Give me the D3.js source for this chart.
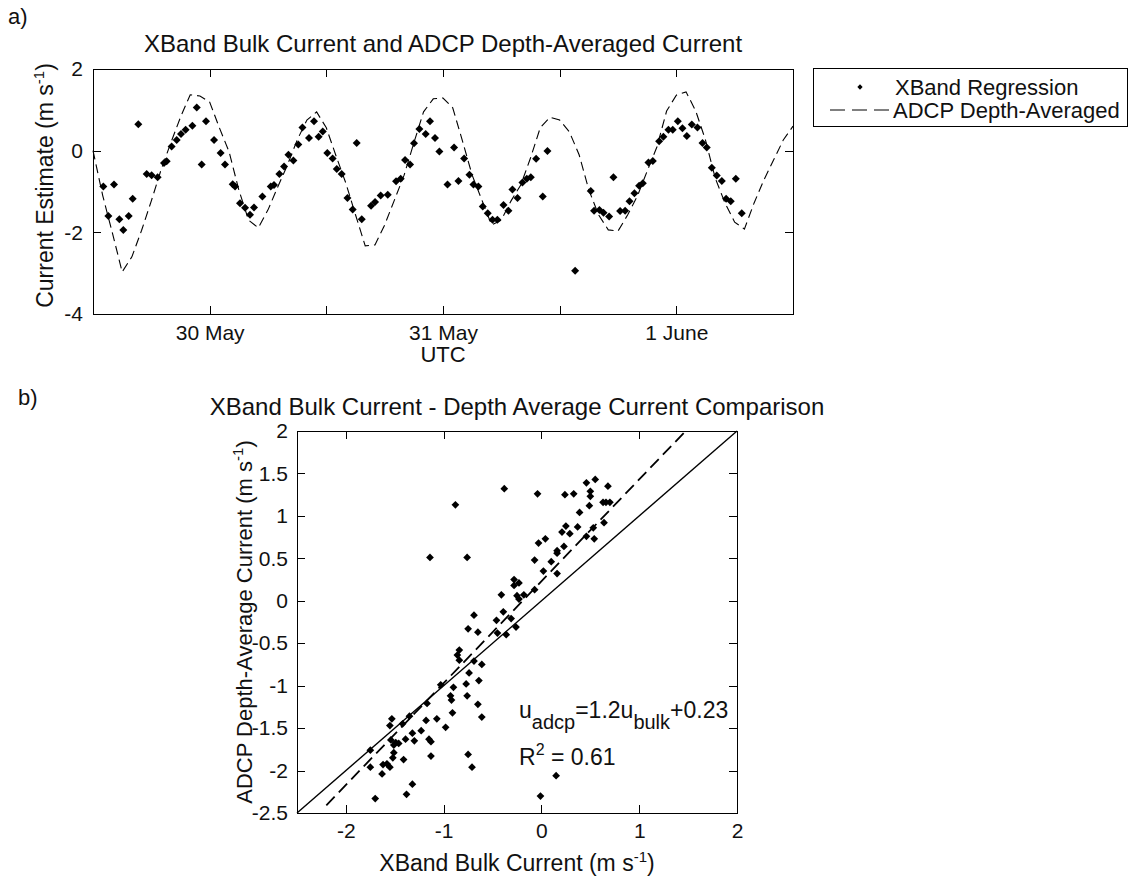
<!DOCTYPE html>
<html>
<head>
<meta charset="utf-8">
<script src="https://cdnjs.cloudflare.com/ajax/libs/d3/7.8.5/d3.min.js"></script>
<style>
  body { margin: 0; background: #fff; }
  svg { font-family: "Liberation Sans", Arial, Helvetica, sans-serif; fill: #111; }
  .axis path { display: none; }
  .axis line { stroke: #000; shape-rendering: crispEdges; }
  .axis text { font-size: 21px; fill: #111; font-family: "Liberation Sans", Arial, sans-serif; }
</style>
</head>
<body>
<svg id="fig" width="1133" height="879"></svg>
<script>
// ---- panel a: time series (hours after 29 May 12:00 UTC) ----
const adcpHours = d3.range(0, 73);
const adcpValues = [
  0.0, -1.10, -2.02, -2.97, -2.60, -1.95, -1.23, -0.47, 0.19, 0.82,
  1.37, 1.34, 1.19, 0.56, -0.03, -0.96, -1.70, -1.89, -1.45, -0.89,
  -0.35, 0.26, 0.75, 0.95, 0.56, -0.13, -0.79, -1.57, -2.33, -2.31,
  -1.82, -1.21, -0.60, 0.19, 0.95, 1.27, 1.29, 1.05, 0.24, -0.60,
  -1.21, -1.82, -1.70, -1.23, -0.84, -0.18, 0.56, 0.82, 0.75, 0.46,
  -0.10, -0.96, -1.57, -1.94, -1.97, -1.57, -1.11, -0.50, 0.09, 0.97,
  1.36, 1.44, 0.97, 0.26, -0.67, -1.28, -1.75, -1.92, -1.28, -0.72,
  -0.23, 0.26, 0.60
];

const xbandHours = [
  1.06, 1.58, 2.16, 2.71, 3.12, 3.67, 4.08, 4.66, 5.52, 6.03,
  6.65, 7.30, 7.58, 8.09, 8.61, 9.05, 9.53, 10.22, 10.67, 11.18,
  11.62, 12.45, 13.13, 13.58, 14.37, 14.61, 15.12, 15.64, 16.15, 16.56,
  17.42, 18.28, 18.62, 19.17, 19.65, 20.10, 20.61, 21.12, 21.54, 22.22,
  22.73, 23.21, 23.63, 24.10, 24.65, 25.07, 25.58, 26.17, 26.71, 27.12,
  27.64, 28.60, 29.01, 29.59, 30.32, 31.17, 31.65, 32.10, 32.61, 33.02,
  33.57, 34.22, 34.66, 35.18, 35.63, 36.46, 37.14, 37.59, 38.17, 38.72,
  39.13, 39.64, 40.09, 40.60, 41.09, 41.59, 42.22, 42.73, 43.14, 43.66,
  44.17, 44.62, 45.03, 45.58, 46.26, 46.74, 49.59, 51.20, 51.54, 52.09,
  52.51, 53.09, 53.53, 54.22, 54.73, 55.18, 55.69, 56.17, 56.55, 57.13,
  57.58, 58.23, 58.67, 59.19, 59.63, 60.15, 60.63, 61.08, 61.59, 62.17,
  62.69, 63.13, 63.65, 64.16, 64.68, 65.12, 65.60, 66.12, 66.73
];
const xbandValues = [
  -0.88, -1.60, -0.83, -1.68, -1.94, -1.60, -1.18, 0.65, -0.57, -0.60,
  -0.65, -0.30, -0.26, 0.10, 0.26, 0.41, 0.51, 0.61, 1.06, -0.34,
  0.72, 0.26, -0.06, -0.34, -0.82, -0.88, -1.29, -1.40, -1.57, -1.39,
  -1.12, -0.88, -0.84, -0.57, -0.39, -0.10, -0.24, 0.15, 0.57, 0.31,
  0.72, 0.34, 0.47, -0.06, -0.19, -0.45, -0.57, -1.16, -1.44, 0.19,
  -1.68, -1.35, -1.26, -1.10, -1.08, -0.75, -0.69, -0.23, -0.34, 0.18,
  0.53, 0.41, 0.72, 0.31, -0.02, -0.83, 0.08, -0.74, -0.19, -0.59,
  -0.83, -0.88, -1.37, -1.53, -1.69, -1.69, -1.33, -1.47, -0.95, -1.16,
  -0.78, -0.69, -0.65, -0.20, -1.12, -0.01, -2.94, -0.99, -1.47, -1.45,
  -1.52, -1.61, -0.65, -1.48, -1.47, -1.24, -1.04, -0.86, -0.80, -0.29,
  -0.25, 0.23, 0.34, 0.51, 0.51, 0.72, 0.55, 0.36, 0.64, 0.57,
  0.19, 0.08, -0.42, -0.61, -0.74, -1.18, -1.24, -0.69, -1.53
];

const timeTickHours = [12, 24, 36, 48, 60];
const timeTickLabels = ["30 May", "", "31 May", "", "1 June"];
const currentTicks = [-4, -2, 0, 2];

// ---- panel b: scatter comparison ----
const bulkX = [
  -0.38, -0.88, -1.14, -0.76, -0.41, -0.28, -0.28, -0.25, -0.39, -0.69,
  -0.46, -0.31, -0.04, 0.24, 0.33, 0.46, 0.55, 0.68, 0.50, 0.50,
  0.49, 0.63, 0.66, 0.70, 0.39, 0.25, 0.21, 0.29, 0.37, 0.53,
  0.64, 0.46, 0.54, -0.03, 0.04, 0.16, 0.16, 0.23, -0.07, 0.10,
  0.02, 0.16, -0.23, -0.18, -0.23, -0.07, -0.75, -0.65, -0.45, -0.36,
  -0.84, -0.86, -0.84, -0.69, -0.61, -0.74, -0.64, -0.77, -1.03, -0.90,
  -0.76, -0.93, -0.92, -0.65, -1.17, -0.91, -0.61, -1.53, -1.55, -1.42,
  -1.35, -1.18, -1.07, -0.98, -1.23, -1.32, -1.39, -1.30, -1.54, -1.49,
  -1.46, -1.51, -1.15, -1.13, -1.51, -1.52, -1.41, -1.13, -0.75, -0.71,
  -1.75, -1.75, -1.62, -1.58, -1.55, -1.63, -1.32, -1.38, -1.70, -0.26,
  0.15, -0.01
];
const adcpY = [
  1.32, 1.13, 0.51, 0.51, 0.07, 0.25, 0.18, 0.06, -0.13, -0.17,
  -0.23, -0.21, 1.26, 1.25, 1.26, 1.39, 1.43, 1.35, 1.29, 1.23,
  1.12, 1.16, 1.16, 1.16, 1.04, 0.88, 0.81, 0.79, 0.87, 0.86,
  0.92, 0.76, 0.73, 0.68, 0.73, 0.59, 0.56, 0.64, 0.48, 0.46,
  0.35, 0.32, 0.21, 0.07, 0.02, 0.13, -0.33, -0.37, -0.38, -0.40,
  -0.58, -0.64, -0.70, -0.71, -0.75, -0.85, -0.94, -0.98, -0.99, -1.02,
  -1.12, -1.12, -1.17, -1.22, -1.21, -1.32, -1.37, -1.39, -1.47, -1.45,
  -1.36, -1.41, -1.39, -1.49, -1.53, -1.56, -1.63, -1.65, -1.64, -1.67,
  -1.68, -1.70, -1.63, -1.66, -1.79, -1.85, -1.87, -1.83, -1.81, -1.96,
  -1.76, -1.96, -1.93, -1.92, -1.96, -2.04, -2.16, -2.28, -2.33, -0.31,
  -2.06, -2.30
];
const fitSlope = 1.2, fitIntercept = 0.23, fitStart = -2.2;
const compTicksX = [-2, -1, 0, 1, 2];
const compTicksY = [-2.5, -2, -1.5, -1, -0.5, 0, 0.5, 1, 1.5, 2];

// ---------------------------------------------------------------
const svg = d3.select("#fig");
const t0 = Date.UTC(2008, 4, 29, 12);
const toDate = h => new Date(t0 + h * 3600e3);

// filled diamond like MATLAB 'd' marker
const diamond = {
  draw(ctx, size) {
    const r = Math.sqrt(size / 2);
    ctx.moveTo(0, -r); ctx.lineTo(r, 0); ctx.lineTo(0, r); ctx.lineTo(-r, 0); ctx.closePath();
  }
};

function frame(g, w, h) {
  g.append("rect").attr("x", 0.5).attr("y", 0.5).attr("width", w).attr("height", h)
    .attr("fill", "none").attr("stroke", "#000").attr("stroke-width", 1)
    .attr("shape-rendering", "crispEdges");
}

function addUnitLabel(sel, prefix) {
  sel.append("tspan").text(prefix + "(m s");
  sel.append("tspan").attr("dy", -9).attr("font-size", "15px").text("-1");
  sel.append("tspan").attr("dy", 9).text(")");
}

// ===== panel a =====
const A = {left: 93, top: 69, width: 700, height: 245};
const gA = svg.append("g").attr("transform", `translate(${A.left},${A.top})`);

const xA = d3.scaleUtc().domain([toDate(0), toDate(72)]).range([0, A.width]);
const yA = d3.scaleLinear().domain([-4, 2]).range([A.height, 0]);

gA.append("g").attr("class", "axis").attr("transform", `translate(0,${A.height})`)
  .call(d3.axisBottom(xA).tickValues(timeTickHours.map(toDate))
    .tickFormat((d, i) => timeTickLabels[i]).tickSize(-8).tickPadding(11));
gA.append("g").attr("class", "axis")
  .call(d3.axisTop(xA).tickValues(timeTickHours.map(toDate)).tickFormat("").tickSize(-8));
gA.append("g").attr("class", "axis")
  .call(d3.axisLeft(yA).tickValues(currentTicks).tickFormat(d => String(d)).tickSize(-8).tickPadding(10));
gA.append("g").attr("class", "axis").attr("transform", `translate(${A.width},0)`)
  .call(d3.axisRight(yA).tickValues(currentTicks).tickFormat("").tickSize(-8));

gA.append("path")
  .datum(adcpHours.map((h, i) => [h, adcpValues[i]]))
  .attr("fill", "none").attr("stroke", "#000").attr("stroke-width", 1.1)
  .attr("stroke-dasharray", "9,5")
  .attr("d", d3.line().x(d => xA(toDate(d[0]))).y(d => yA(d[1])));

gA.selectAll(".pt")
  .data(xbandHours.map((h, i) => [h, xbandValues[i]]))
  .join("path")
  .attr("class", "pt")
  .attr("transform", d => `translate(${xA(toDate(d[0]))},${yA(d[1])})`)
  .attr("d", d3.symbol(diamond, 32))
  .attr("fill", "#000");

frame(gA, A.width, A.height);

svg.append("text").attr("x", 8).attr("y", 24).attr("font-size", "22px").text("a)");
svg.append("text").attr("x", A.left + A.width / 2).attr("y", 52)
  .attr("text-anchor", "middle").attr("font-size", "24px")
  .text("XBand Bulk Current and ADCP Depth-Averaged Current");
svg.append("text").attr("x", A.left + A.width / 2).attr("y", 362)
  .attr("text-anchor", "middle").attr("font-size", "22px").text("UTC");
svg.append("text")
  .attr("transform", `translate(53,${A.top + A.height / 2 - 6}) rotate(-90)`)
  .attr("text-anchor", "middle").attr("font-size", "23px")
  .call(addUnitLabel, "Current Estimate ");

// legend
const leg = svg.append("g").attr("transform", "translate(813,68)");
leg.append("rect").attr("x", 0.5).attr("y", 0.5).attr("width", 314).attr("height", 58)
  .attr("fill", "#fff").attr("stroke", "#000").attr("shape-rendering", "crispEdges");
leg.append("path").attr("transform", "translate(47,19)").attr("d", d3.symbol(diamond, 14)).attr("fill", "#000");
leg.append("text").attr("x", 82).attr("y", 27).attr("font-size", "22px").text("XBand Regression");
leg.append("line").attr("x1", 17).attr("x2", 78).attr("y1", 42).attr("y2", 42)
  .attr("stroke", "#000").attr("stroke-dasharray", "15,7");
leg.append("text").attr("x", 80).attr("y", 50).attr("font-size", "22px").text("ADCP Depth-Averaged");

// ===== panel b =====
const B = {left: 297, top: 431, width: 440, height: 382};
const gB = svg.append("g").attr("transform", `translate(${B.left},${B.top})`);

const xB = d3.scaleLinear().domain([-2.5, 2]).range([0, B.width]);
const yB = d3.scaleLinear().domain([-2.5, 2]).range([B.height, 0]);

gB.append("g").attr("class", "axis").attr("transform", `translate(0,${B.height})`)
  .call(d3.axisBottom(xB).tickValues(compTicksX).tickFormat(d => String(d)).tickSize(-8).tickPadding(10));
gB.append("g").attr("class", "axis")
  .call(d3.axisTop(xB).tickValues(compTicksX).tickFormat("").tickSize(-8));
gB.append("g").attr("class", "axis")
  .call(d3.axisLeft(yB).tickValues(compTicksY).tickFormat(d => String(d)).tickSize(-8).tickPadding(9));
gB.append("g").attr("class", "axis").attr("transform", `translate(${B.width},0)`)
  .call(d3.axisRight(yB).tickValues(compTicksY).tickFormat("").tickSize(-8));

// 1:1 line
gB.append("line")
  .attr("x1", xB(-2.5)).attr("y1", yB(-2.5)).attr("x2", xB(2)).attr("y2", yB(2))
  .attr("stroke", "#000").attr("stroke-width", 1.4);
// regression fit
const fitEnd = (2 - fitIntercept) / fitSlope;
gB.append("line")
  .attr("x1", xB(fitStart)).attr("y1", yB(fitSlope * fitStart + fitIntercept))
  .attr("x2", xB(fitEnd)).attr("y2", yB(fitSlope * fitEnd + fitIntercept))
  .attr("stroke", "#000").attr("stroke-width", 1.8).attr("stroke-dasharray", "12,6");

gB.selectAll(".pt")
  .data(bulkX.map((x, i) => [x, adcpY[i]]))
  .join("path")
  .attr("class", "pt")
  .attr("transform", d => `translate(${xB(d[0])},${yB(d[1])})`)
  .attr("d", d3.symbol(diamond, 30))
  .attr("fill", "#000");

frame(gB, B.width, B.height);

svg.append("text").attr("x", 18).attr("y", 405).attr("font-size", "22px").text("b)");
svg.append("text").attr("x", B.left + B.width / 2).attr("y", 415)
  .attr("text-anchor", "middle").attr("font-size", "24px")
  .text("XBand Bulk Current - Depth Average Current Comparison");
svg.append("text").attr("x", B.left + B.width / 2).attr("y", 871)
  .attr("text-anchor", "middle").attr("font-size", "23px")
  .call(addUnitLabel, "XBand Bulk Current ");
svg.append("text")
  .attr("transform", `translate(252,${B.top + B.height / 2}) rotate(-90)`)
  .attr("text-anchor", "middle").attr("font-size", "22px")
  .call(addUnitLabel, "ADCP Depth-Average Current ");

// fit annotation
const eq = svg.append("text").attr("x", 519).attr("y", 718).attr("font-size", "23px");
eq.append("tspan").text("u");
eq.append("tspan").attr("dy", 11).attr("font-size", "20px").text("adcp");
eq.append("tspan").attr("dy", -11).text("=1.2u");
eq.append("tspan").attr("dy", 11).attr("font-size", "20px").text("bulk");
eq.append("tspan").attr("dy", -11).text("+0.23");
const r2 = svg.append("text").attr("x", 519).attr("y", 765).attr("font-size", "23px");
r2.append("tspan").text("R");
r2.append("tspan").attr("dy", -10).attr("font-size", "16px").text("2");
r2.append("tspan").attr("dy", 10).text(" = 0.61");
</script>
</body>
</html>
